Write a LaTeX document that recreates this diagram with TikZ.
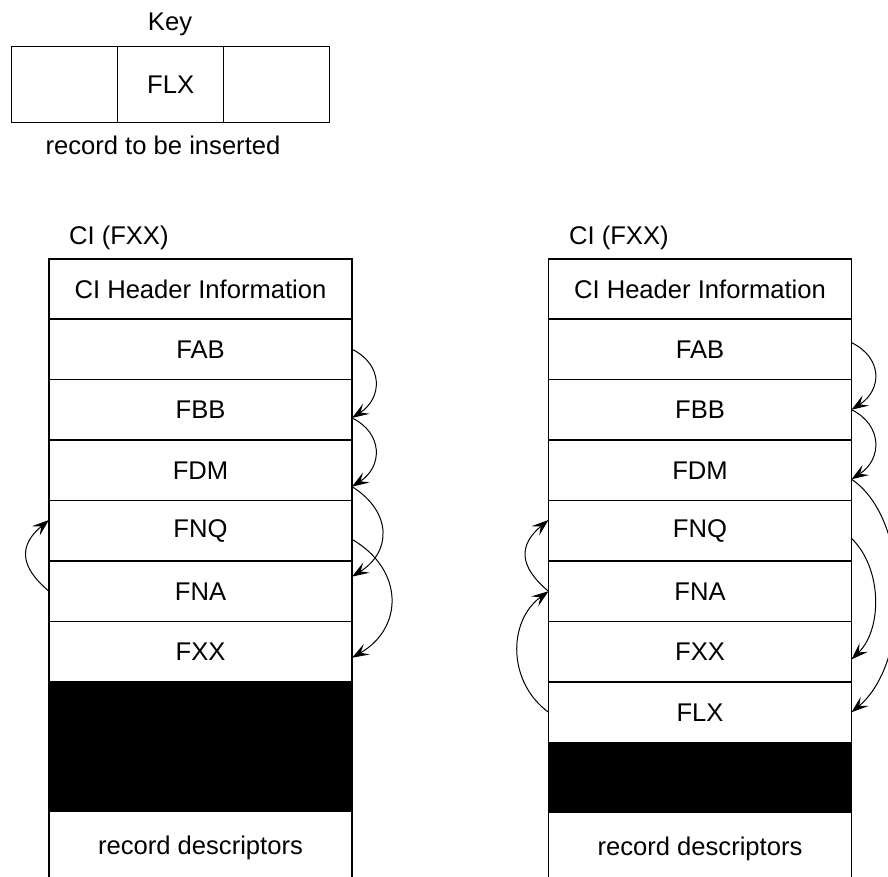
\documentclass[tikz,border=0pt]{standalone}
\usepackage{fontspec}
\setmainfont{Liberation Sans}
\usetikzlibrary{arrows.meta}
\begin{document}
\begin{tikzpicture}[x=0.5pt,y=-0.5pt,
  font=\fontsize{12.8}{15}\selectfont,
  cell/.style={draw, line width=0.6pt, inner sep=0pt, outer sep=0pt, minimum width=151.5pt, minimum height=30.25pt, anchor=north},
  keycell/.style={draw, line width=0.6pt, inner sep=0pt, outer sep=0pt, minimum width=53pt, minimum height=37.8pt, anchor=north west},
  blk/.style={cell, fill=black},
  arr/.style={-{Stealth[length=8.5pt,width=6pt,inset=3.5pt]}, line width=0.5pt}]
\useasboundingbox (0,0) rectangle (888,877);
\clip (0,0) rectangle (888,877);
% key
\node (keylabel) at (170,24) {Key};
\node[keycell] (k1) at (11.7,46.7) {};
\node[keycell] (k2) at (117.7,46.7) {FLX};
\node[keycell] (k3) at (223.7,46.7) {};
\node (keycap) at (163,145) {record to be inserted};
% left column
\node[anchor=west] (ltitle) at (62,238) {CI (FXX)};
\node[cell, minimum height=30pt] (lhdr) at (200.5,259) {CI Header Information};
\node[cell] (lfab) at (lhdr.south) {FAB};
\node[cell] (lfbb) at (lfab.south) {FBB};
\node[cell] (lfdm) at (lfbb.south) {FDM};
\node[cell] (lfnq) at (lfdm.south) {FNQ};
\node[cell] (lfna) at (lfnq.south) {FNA};
\node[cell] (lfxx) at (lfna.south) {FXX};
\node[blk, minimum height=64.75pt] (lblk) at (lfxx.south) {};
\node[cell, minimum height=36.5pt] (ldesc) at (lblk.south) {record descriptors};
% right column
\node[anchor=west] (rtitle) at (562,238) {CI (FXX)};
\node[cell, minimum height=30pt] (rhdr) at (700,259) {CI Header Information};
\node[cell] (rfab) at (rhdr.south) {FAB};
\node[cell] (rfbb) at (rfab.south) {FBB};
\node[cell] (rfdm) at (rfbb.south) {FDM};
\node[cell] (rfnq) at (rfdm.south) {FNQ};
\node[cell] (rfna) at (rfnq.south) {FNA};
\node[cell] (rfxx) at (rfna.south) {FXX};
\node[cell] (rflx) at (rfxx.south) {FLX};
\node[blk, minimum height=34.75pt] (rblk) at (rflx.south) {};
\node[cell, minimum height=36.5pt] (rdesc) at (rblk.south) {record descriptors};
% left column arrows
\draw[arr] (lfab.east) .. controls +(31,15) and +(31,-20) .. ([yshift=-4.1pt]lfbb.east);
\draw[arr] ([yshift=-4.1pt]lfbb.east) .. controls +(31,15) and +(31,-20) .. ([yshift=-8.2pt]lfdm.east);
\draw[arr] ([yshift=-8.2pt]lfdm.east) .. controls +(40,25) and +(40,-25) .. ([yshift=7.3pt]lfna.east);
\draw[arr] ([yshift=-4.3pt]lfnq.east) .. controls +(52,30) and +(52,-30) .. ([yshift=-3pt]lfxx.east);
\draw[arr] (lfna.west) .. controls +(-30,-25) and +(-30,25) .. ([yshift=5.4pt]lfnq.west);
% right column arrows
\draw[arr] ([yshift=3.3pt]rfab.east) .. controls +(31,15) and +(31,-20) .. (rfbb.east);
\draw[arr] (rfbb.east) .. controls +(31,15) and +(31,-20) .. ([yshift=-4.5pt]rfdm.east);
\draw[arr] ([yshift=-4.5pt]rfdm.east) .. controls +(60,40) and +(60,-50) .. (rflx.east);
\draw[arr] ([yshift=-3.8pt]rfnq.east) .. controls +(31,30) and +(31,-30) .. ([yshift=-3.8pt]rfxx.east);
\draw[arr] (rfna.west) .. controls +(-30,-25) and +(-30,25) .. ([yshift=5.4pt]rfnq.west);
\draw[arr] (rflx.west) .. controls +(-41,-30) and +(-41,30) .. (rfna.west);
\end{tikzpicture}
\end{document}
